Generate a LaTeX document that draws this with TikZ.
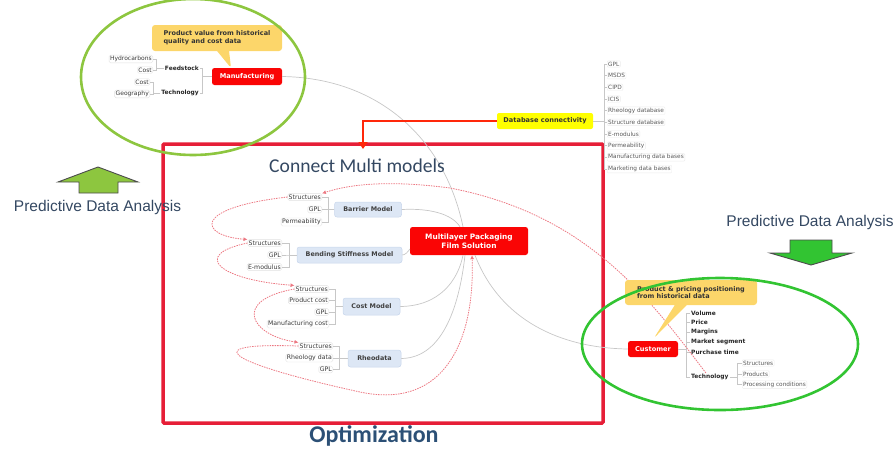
\documentclass[tikz,border=0pt]{standalone}
\usepackage{fontspec}
\setmainfont{DejaVu Sans}
\newfontfamily\carl{Carlito}
\newfontfamily\libs{Liberation Sans}
\usetikzlibrary{shapes.callouts,arrows.meta,calc}
\definecolor{greenA}{RGB}{141,198,63}
\definecolor{greenB}{RGB}{50,196,50}
\definecolor{boxred}{RGB}{230,30,55}
\definecolor{mmred}{RGB}{250,5,5}
\definecolor{callY}{RGB}{252,214,106}
\definecolor{dbY}{RGB}{255,255,0}
\definecolor{modelfill}{RGB}{221,231,245}
\definecolor{modeldraw}{RGB}{200,214,236}
\definecolor{pinkd}{RGB}{236,120,130}
\definecolor{bigtxt}{RGB}{52,72,98}
\definecolor{opttxt}{RGB}{44,80,118}
\definecolor{dbred}{RGB}{255,40,10}
\tikzset{
 mm/.style={rounded corners=2.5pt, fill=mmred, text=white, font=\fontsize{6.6}{8}\selectfont\bfseries, inner sep=1pt, align=center},
 model/.style={rounded corners=2.5pt, fill=modelfill, draw=modeldraw, line width=0.5pt, text=black!75, font=\fontsize{6.4}{7.5}\selectfont\bfseries, inner sep=1pt},
 sub/.style={rounded corners=1.5pt, draw=black!12, text=black!78, font=\fontsize{6.2}{7}\selectfont, inner sep=1pt, anchor=east},
 subb/.style={text=black!85, font=\fontsize{5.9}{7}\selectfont\bfseries, inner sep=1pt},
 lst/.style={rounded corners=1pt, draw=black!8, text=black!65, font=\fontsize{5.8}{7}\selectfont, anchor=west, inner sep=1pt},
 conn/.style={draw=black!22, line width=0.7pt},
 pdash/.style={draw=pinkd, line width=0.8pt, dash pattern=on 1.5pt off 1pt, -{Latex[length=4pt,width=4pt]}},
 callout/.style={rectangle callout, rounded corners=3pt, fill=callY, text=black!80, font=\fontsize{6.5}{7.8}\selectfont\bfseries, align=left, inner xsep=5pt, inner ysep=2pt, callout pointer width=12pt},
 bigl/.style={text=bigtxt, inner sep=0pt},
 garrow/.style={draw=black!70, line width=0.9pt},
}
\begin{document}
\begin{tikzpicture}[x=1pt,y=-1pt]
\useasboundingbox (0,0) rectangle (896,451);

% ---------- red frame ----------
\draw[boxred, line width=3.5pt, rounded corners=1pt] (163,144) rectangle (603,423);

% ---------- main nodes ----------
\node[mm, minimum width=118pt, minimum height=28pt, font=\fontsize{7.4}{9}\selectfont\bfseries] (ml) at (469,241) {Multilayer Packaging\\Film Solution};
\node[mm, minimum width=70pt, minimum height=17pt] (manu) at (247,76.5) {Manufacturing};
\node[mm, minimum width=50pt, minimum height=16pt] (cust) at (653,349) {Customer};
\node[rounded corners=2pt, fill=dbY, text=black!80, font=\fontsize{6.6}{8}\selectfont\bfseries, minimum width=96pt, minimum height=16pt, inner sep=1pt] (db) at (545,121) {Database connectivity};

\node[model, minimum width=67pt, minimum height=15pt] (barrier) at (368,209.5) {Barrier Model};
\node[model, minimum width=105pt, minimum height=16pt] (bending) at (349.5,255) {Bending Stiffness Model};
\node[model, minimum width=57pt, minimum height=17pt] (cost) at (371.5,306.5) {Cost Model};
\node[model, minimum width=53pt, minimum height=17pt] (rheo) at (374.5,358.5) {Rheodata};

% ---------- sub labels of models ----------
\node[sub] (bar1) at (322,197) {Structures};
\node[sub] (bar2) at (322,209.5) {GPL};
\node[sub] (bar3) at (322,222) {Permeability};
\node[sub] (ben1) at (282,243) {Structures};
\node[sub] (ben2) at (282,255) {GPL};
\node[sub] (ben3) at (282,267) {E-modulus};
\node[sub] (cst1) at (329,289) {Structures};
\node[sub] (cst2) at (329,300.5) {Product cost};
\node[sub] (cst3) at (329,312) {GPL};
\node[sub] (cst4) at (329,324) {Manufacturing cost};
\node[sub] (rh1) at (333,346) {Structures};
\node[sub] (rh2) at (333,358) {Rheology data};
\node[sub] (rh3) at (333,369.5) {GPL};

\foreach \c in {bar1,bar2,bar3} \draw[conn] (barrier.west) -- ++(-6,0) |- (\c.east);
\foreach \c in {ben1,ben2,ben3} \draw[conn] (bending.west) -- ++(-7,0) |- (\c.east);
\foreach \c in {cst1,cst2,cst3,cst4} \draw[conn] (cost.west) -- ++(-7,0) |- (\c.east);
\foreach \c in {rh1,rh2,rh3} \draw[conn] (rheo.west) -- ++(-8,0) |- (\c.east);

% ---------- manufacturing branch ----------
\node[subb, anchor=east] (feed) at (200,68) {Feedstock};
\node[subb, anchor=east] (tech) at (200,93) {Technology};
\node[sub, font=\fontsize{6}{7}\selectfont] (hyd) at (153,59) {Hydrocarbons};
\node[sub, font=\fontsize{6}{7}\selectfont] (mc1) at (153,70) {Cost};
\node[sub, font=\fontsize{6}{7}\selectfont] (mc2) at (150,82) {Cost};
\node[sub, font=\fontsize{6}{7}\selectfont] (geo) at (150,94) {Geography};
\foreach \c in {feed,tech} \draw[conn] (manu.west) -- ++(-9,0) |- (\c.east);
\foreach \c in {hyd,mc1} \draw[conn] (feed.west) -- ++(-7,0) |- (\c.east);
\foreach \c in {mc2,geo} \draw[conn] (tech.west) -- ++(-7,0) |- (\c.east);

% ---------- database list ----------
\foreach \t [count=\i] in {GPL,MSDS,CIPD,ICIS,Rheology database,Structure database,E-modulus,Permeability,Manufacturing data bases,Marketing data bases}
  \node[lst] (l\i) at (607,{64+(\i-1)*11.67}) {\t};
\foreach \i in {1,...,10} \draw[conn] (db.east) -| ($(l\i.west)+(-3,0)$) -- (l\i.west);

% ---------- customer branch ----------
\node[subb, anchor=west] (cv1) at (690,313) {Volume};
\node[subb, anchor=west] (cv2) at (690,322.5) {Price};
\node[subb, anchor=west] (cv3) at (690,332) {Margins};
\node[subb, anchor=west] (cv4) at (690,342) {Market segment};
\node[subb, anchor=west] (cv5) at (690,352) {Purchase time};
\node[subb, anchor=west] (ctech) at (690,377) {Technology};
\node[lst] (tk1) at (742,363) {Structures};
\node[lst] (tk2) at (742,374) {Products};
\node[lst] (tk3) at (742,384.5) {Processing conditions};
\foreach \c in {cv1,cv2,cv3,cv4,cv5,ctech} \draw[conn] (cust.east) -- ++(8,0) |- (\c.west);
\foreach \c in {tk1,tk2,tk3} \draw[conn] (ctech.east) -- ++(8,0) |- (\c.west);

% ---------- grey connectors to central node ----------
\draw[conn] (manu.east) .. controls (380,78) and (445,140) .. ($(ml.north)+(-6,0)$);
\draw[conn] (barrier.east) .. controls (430,208) and (452,214) .. ($(ml.north)+(-9,0)$);
\draw[conn] (bending.east) .. controls (405,255) and (408,252) .. ($(ml.west)+(0,8)$);
\draw[conn] (cost.east) .. controls (440,306) and (458,280) .. ($(ml.south)+(-6,0)$);
\draw[conn] (rheo.east) .. controls (445,358) and (460,300) .. ($(ml.south)+(-4,0)$);
\draw[conn] ($(ml.south)+(6,0)$) .. controls (500,320) and (560,348) .. (cust.west);

% ---------- pink dashed chain ----------
\draw[pdash] ($(ctech.north)+(-4,0)$) .. controls (650,300) and (590,215) .. (450,188) .. controls (390,180) and (350,184) .. (bar1.north east);
\draw[pdash] (bar1.west) .. controls (190,208) and (200,236) .. (ben1.north west);
\draw[pdash] (ben1.west) .. controls (190,255) and (220,280) .. (cst1.north west);
\draw[pdash] (cst1.west) .. controls (232,300) and (250,335) .. (rh1.north west);
\draw[pdash] (rh1.west) .. controls (180,342) and (250,368) .. (360,392) .. controls (445,410) and (475,340) .. ($(ml.south)+(3,0)$);

% ---------- database red arrow ----------
\coordinate (dbin) at (363,149);
\draw[dbred, line width=2.2pt, -{Triangle[length=7pt,width=9pt]}] (db.west) -| (dbin);

% ---------- callouts ----------
\node[callout, callout absolute pointer={(231,68)}, minimum width=130pt, minimum height=26pt] (c1) at (217,38) {Product value from historical\\quality and cost data};
\node[callout, callout absolute pointer={(654,338)}, minimum width=132pt, minimum height=25pt] (c2) at (691,292.5) {Product \& pricing positioning\\from historical data};

% ---------- ellipses ----------
\draw[greenA, line width=2.6pt] (193,77) ellipse [x radius=112pt, y radius=78pt];
\draw[greenB, line width=2.6pt] (720,344) ellipse [x radius=138pt, y radius=66pt];

% ---------- green arrows ----------
\draw[garrow, fill=greenA] (58,182) -- (98,167) -- (138,182) -- (118,182) -- (118,193) -- (79,193) -- (79,182) -- cycle;
\draw[garrow, fill=greenB] (770,253) -- (811,265) -- (852,253) -- (832,253) -- (832,240) -- (790,240) -- (790,253) -- cycle;

% ---------- big labels ----------
\node[bigl, font=\carl\fontsize{19.6}{21}\selectfont] (tconn) at (357,166) {Connect Multi models};
\node[bigl, text=opttxt, font=\carl\bfseries\fontsize{24}{26}\selectfont] (topt) at (374,436) {Optimization};
\node[bigl, font=\libs\fontsize{15.5}{17}\selectfont] (tpl) at (97.5,207) {Predictive Data Analysis};
\node[bigl, font=\libs\fontsize{15.5}{17}\selectfont] (tpr) at (810,222) {Predictive Data Analysis};
\end{tikzpicture}
\end{document}
